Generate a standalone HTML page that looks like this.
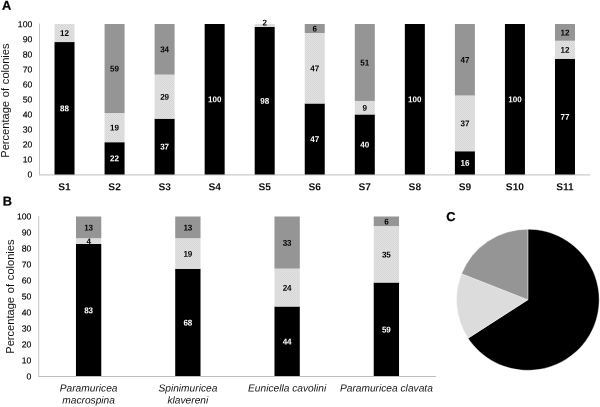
<!DOCTYPE html>
<html lang="en">
<head>
<meta charset="utf-8">
<title>Percentage of colonies</title>
<style>
html,body{margin:0;padding:0;background:#fff;}
body{width:600px;height:407px;overflow:hidden;}
svg{display:block;}
text{font-family:'Liberation Sans', Arial, sans-serif;}
.lb{font-size:8.4px;font-weight:bold;text-anchor:middle;}
.tk{font-size:8.7px;text-anchor:end;fill:#000;stroke:#000;stroke-width:0.15px;}
.cat{font-size:10.2px;font-weight:bold;text-anchor:middle;fill:#111;}
.ttl{font-size:11.1px;word-spacing:0.7px;text-anchor:middle;fill:#111;}
.pl{font-size:12.8px;font-weight:bold;fill:#000;stroke:#000;stroke-width:0.25px;}
.sp{font-size:10.2px;font-style:italic;text-anchor:middle;fill:#111;}
</style>
</head>
<body>
<svg width="600" height="407" viewBox="0 0 600 407">
<defs>
<pattern id="dots" width="2" height="2" patternUnits="userSpaceOnUse">
<rect width="2" height="2" fill="#e0e0e0"/>
<rect width="1" height="1" fill="#d8d8d8"/>
<rect x="1" y="1" width="1" height="1" fill="#d8d8d8"/>
</pattern>
</defs>
<rect width="600" height="407" fill="#fff"/>
<g>
<line x1="39.5" y1="23.5" x2="39.5" y2="174.9" stroke="#c4c4c4" stroke-width="1"/>
<text transform="translate(32.30 177.55) rotate(0.03)" class="tk">0</text>
<text transform="translate(32.30 162.53) rotate(0.03)" class="tk">10</text>
<text transform="translate(32.30 147.51) rotate(0.03)" class="tk">20</text>
<text transform="translate(32.30 132.49) rotate(0.03)" class="tk">30</text>
<text transform="translate(32.30 117.47) rotate(0.03)" class="tk">40</text>
<text transform="translate(32.30 102.45) rotate(0.03)" class="tk">50</text>
<text transform="translate(32.30 87.43) rotate(0.03)" class="tk">60</text>
<text transform="translate(32.30 72.41) rotate(0.03)" class="tk">70</text>
<text transform="translate(32.30 57.39) rotate(0.03)" class="tk">80</text>
<text transform="translate(32.30 42.37) rotate(0.03)" class="tk">90</text>
<text transform="translate(32.30 27.35) rotate(0.03)" class="tk">100</text>
<line x1="39.0" y1="174.9" x2="590" y2="174.9" stroke="#bdbdbd" stroke-width="1"/>
<rect x="54.52" y="42.06" width="20.00" height="132.44" fill="#000"/>
<rect x="54.52" y="24.00" width="20.00" height="18.06" fill="url(#dots)"/>
<text transform="translate(64.52 111.28) rotate(0.03) scale(0.96 1)" class="lb" fill="#fff">88</text>
<text transform="translate(64.52 36.03) rotate(0.03) scale(0.96 1)" class="lb" fill="#000">12</text>
<rect x="104.57" y="142.20" width="20.00" height="32.30" fill="#000"/>
<rect x="104.57" y="113.01" width="20.00" height="29.20" fill="url(#dots)"/>
<rect x="104.57" y="24.00" width="20.00" height="89.01" fill="#959595"/>
<text transform="translate(114.57 161.35) rotate(0.03) scale(0.96 1)" class="lb" fill="#fff">22</text>
<text transform="translate(114.57 130.60) rotate(0.03) scale(0.96 1)" class="lb" fill="#000">19</text>
<text transform="translate(114.57 71.50) rotate(0.03) scale(0.96 1)" class="lb" fill="#000">59</text>
<rect x="154.61" y="118.69" width="20.00" height="55.81" fill="#000"/>
<rect x="154.61" y="74.60" width="20.00" height="44.10" fill="url(#dots)"/>
<rect x="154.61" y="24.00" width="20.00" height="50.60" fill="#959595"/>
<text transform="translate(164.61 149.60) rotate(0.03) scale(0.96 1)" class="lb" fill="#fff">37</text>
<text transform="translate(164.61 99.65) rotate(0.03) scale(0.96 1)" class="lb" fill="#000">29</text>
<text transform="translate(164.61 52.30) rotate(0.03) scale(0.96 1)" class="lb" fill="#000">34</text>
<rect x="204.66" y="24.00" width="20.00" height="150.50" fill="#000"/>
<text transform="translate(214.66 102.25) rotate(0.03) scale(0.96 1)" class="lb" fill="#fff">100</text>
<rect x="254.70" y="27.01" width="20.00" height="147.49" fill="#000"/>
<rect x="254.70" y="24.00" width="20.00" height="3.01" fill="url(#dots)"/>
<text transform="translate(264.70 103.76) rotate(0.03) scale(0.96 1)" class="lb" fill="#fff">98</text>
<text transform="translate(264.70 25.51) rotate(0.03) scale(0.96 1)" class="lb" fill="#000">2</text>
<rect x="304.75" y="103.49" width="20.00" height="71.01" fill="#000"/>
<rect x="304.75" y="33.00" width="20.00" height="70.49" fill="url(#dots)"/>
<rect x="304.75" y="24.00" width="20.00" height="9.00" fill="#959595"/>
<text transform="translate(314.75 142.00) rotate(0.03) scale(0.96 1)" class="lb" fill="#fff">47</text>
<text transform="translate(314.75 71.25) rotate(0.03) scale(0.96 1)" class="lb" fill="#000">47</text>
<text transform="translate(314.75 31.50) rotate(0.03) scale(0.96 1)" class="lb" fill="#000">6</text>
<rect x="354.80" y="114.45" width="20.00" height="60.05" fill="#000"/>
<rect x="354.80" y="100.95" width="20.00" height="13.50" fill="url(#dots)"/>
<rect x="354.80" y="24.00" width="20.00" height="76.95" fill="#959595"/>
<text transform="translate(364.80 147.48) rotate(0.03) scale(0.96 1)" class="lb" fill="#fff">40</text>
<text transform="translate(364.80 110.70) rotate(0.03) scale(0.96 1)" class="lb" fill="#000">9</text>
<text transform="translate(364.80 65.48) rotate(0.03) scale(0.96 1)" class="lb" fill="#000">51</text>
<rect x="404.84" y="24.00" width="20.00" height="150.50" fill="#000"/>
<text transform="translate(414.84 102.25) rotate(0.03) scale(0.96 1)" class="lb" fill="#fff">100</text>
<rect x="454.89" y="151.25" width="20.00" height="23.25" fill="#000"/>
<rect x="454.89" y="95.49" width="20.00" height="55.75" fill="url(#dots)"/>
<rect x="454.89" y="24.00" width="20.00" height="71.49" fill="#959595"/>
<text transform="translate(464.89 165.87) rotate(0.03) scale(0.96 1)" class="lb" fill="#fff">16</text>
<text transform="translate(464.89 126.37) rotate(0.03) scale(0.96 1)" class="lb" fill="#000">37</text>
<text transform="translate(464.89 62.75) rotate(0.03) scale(0.96 1)" class="lb" fill="#000">47</text>
<rect x="504.93" y="24.00" width="20.00" height="150.50" fill="#000"/>
<text transform="translate(514.93 102.25) rotate(0.03) scale(0.96 1)" class="lb" fill="#fff">100</text>
<rect x="554.98" y="58.75" width="20.00" height="115.75" fill="#000"/>
<rect x="554.98" y="40.75" width="20.00" height="18.00" fill="url(#dots)"/>
<rect x="554.98" y="24.00" width="20.00" height="16.75" fill="#959595"/>
<text transform="translate(564.98 119.63) rotate(0.03) scale(0.96 1)" class="lb" fill="#fff">77</text>
<text transform="translate(564.98 52.75) rotate(0.03) scale(0.96 1)" class="lb" fill="#000">12</text>
<text transform="translate(564.98 35.38) rotate(0.03) scale(0.96 1)" class="lb" fill="#000">12</text>
<text transform="translate(64.52 190.30) rotate(0.03)" class="cat">S1</text>
<text transform="translate(114.57 190.30) rotate(0.03)" class="cat">S2</text>
<text transform="translate(164.61 190.30) rotate(0.03)" class="cat">S3</text>
<text transform="translate(214.66 190.30) rotate(0.03)" class="cat">S4</text>
<text transform="translate(264.70 190.30) rotate(0.03)" class="cat">S5</text>
<text transform="translate(314.75 190.30) rotate(0.03)" class="cat">S6</text>
<text transform="translate(364.80 190.30) rotate(0.03)" class="cat">S7</text>
<text transform="translate(414.84 190.30) rotate(0.03)" class="cat">S8</text>
<text transform="translate(464.89 190.30) rotate(0.03)" class="cat">S9</text>
<text transform="translate(514.93 190.30) rotate(0.03)" class="cat">S10</text>
<text transform="translate(564.98 190.30) rotate(0.03)" class="cat">S11</text>
<text transform="translate(8.9,100.6) rotate(-90)" class="ttl">Percentage of colonies</text>
<text transform="translate(2.10 9.70) rotate(0.03)" class="pl">A</text>
</g>
<g>
<line x1="38.7" y1="216.0" x2="38.7" y2="376.9" stroke="#c4c4c4" stroke-width="1"/>
<text transform="translate(31.40 379.55) rotate(0.03)" class="tk">0</text>
<text transform="translate(31.40 363.55) rotate(0.03)" class="tk">10</text>
<text transform="translate(31.40 347.55) rotate(0.03)" class="tk">20</text>
<text transform="translate(31.40 331.55) rotate(0.03)" class="tk">30</text>
<text transform="translate(31.40 315.55) rotate(0.03)" class="tk">40</text>
<text transform="translate(31.40 299.55) rotate(0.03)" class="tk">50</text>
<text transform="translate(31.40 283.55) rotate(0.03)" class="tk">60</text>
<text transform="translate(31.40 267.55) rotate(0.03)" class="tk">70</text>
<text transform="translate(31.40 251.55) rotate(0.03)" class="tk">80</text>
<text transform="translate(31.40 235.55) rotate(0.03)" class="tk">90</text>
<text transform="translate(31.40 219.55) rotate(0.03)" class="tk">100</text>
<line x1="38.5" y1="376.5" x2="436" y2="376.5" stroke="#bdbdbd" stroke-width="1"/>
<rect x="75.97" y="243.93" width="25.30" height="132.07" fill="#000"/>
<rect x="75.97" y="238.19" width="25.30" height="5.74" fill="url(#dots)"/>
<rect x="75.97" y="216.50" width="25.30" height="21.69" fill="#959595"/>
<text transform="translate(88.62 313.17) rotate(0.03) scale(0.96 1)" class="lb" fill="#fff">83</text>
<text transform="translate(88.62 244.26) rotate(0.03) scale(0.96 1)" class="lb" fill="#000">4</text>
<text transform="translate(88.62 230.55) rotate(0.03) scale(0.96 1)" class="lb" fill="#000">13</text>
<rect x="175.22" y="268.82" width="25.30" height="107.18" fill="#000"/>
<rect x="175.22" y="238.19" width="25.30" height="30.62" fill="url(#dots)"/>
<rect x="175.22" y="216.50" width="25.30" height="21.69" fill="#959595"/>
<text transform="translate(187.88 325.61) rotate(0.03) scale(0.96 1)" class="lb" fill="#fff">68</text>
<text transform="translate(187.88 256.70) rotate(0.03) scale(0.96 1)" class="lb" fill="#000">19</text>
<text transform="translate(187.88 230.55) rotate(0.03) scale(0.96 1)" class="lb" fill="#000">13</text>
<rect x="274.48" y="306.51" width="25.30" height="69.49" fill="#000"/>
<rect x="274.48" y="268.61" width="25.30" height="37.90" fill="url(#dots)"/>
<rect x="274.48" y="216.50" width="25.30" height="52.11" fill="#959595"/>
<text transform="translate(287.12 344.46) rotate(0.03) scale(0.96 1)" class="lb" fill="#fff">44</text>
<text transform="translate(287.12 290.76) rotate(0.03) scale(0.96 1)" class="lb" fill="#000">24</text>
<text transform="translate(287.12 245.76) rotate(0.03) scale(0.96 1)" class="lb" fill="#000">33</text>
<rect x="373.73" y="282.53" width="25.30" height="93.47" fill="#000"/>
<rect x="373.73" y="226.07" width="25.30" height="56.46" fill="url(#dots)"/>
<rect x="373.73" y="216.50" width="25.30" height="9.57" fill="#959595"/>
<text transform="translate(386.38 332.47) rotate(0.03) scale(0.96 1)" class="lb" fill="#fff">59</text>
<text transform="translate(386.38 257.50) rotate(0.03) scale(0.96 1)" class="lb" fill="#000">35</text>
<text transform="translate(386.38 224.49) rotate(0.03) scale(0.96 1)" class="lb" fill="#000">6</text>
<text transform="translate(88.62 391.50) rotate(0.03)" class="sp">Paramuricea</text>
<text transform="translate(88.62 403.50) rotate(0.03)" class="sp">macrospina</text>
<text transform="translate(187.88 391.50) rotate(0.03)" class="sp">Spinimuricea</text>
<text transform="translate(187.88 403.50) rotate(0.03)" class="sp">klavereni</text>
<text transform="translate(287.12 391.50) rotate(0.03)" class="sp">Eunicella cavolini</text>
<text transform="translate(386.38 391.50) rotate(0.03)" class="sp">Paramuricea clavata</text>
<text transform="translate(14.2,296.6) rotate(-90)" class="ttl">Percentage of colonies</text>
<text transform="translate(2.80 205.40) rotate(0.03)" class="pl">B</text>
</g>
<g transform="translate(527.85,299.75) scale(1,0.9895)" stroke="#fff" stroke-width="0.4" stroke-linejoin="round">
<path d="M0,0 L0.00,-71.30 A71.3,71.3 0 1 1 -59.80,38.83 Z" fill="#000"/>
<path d="M0,0 L-59.80,38.83 A71.3,71.3 0 0 1 -66.26,-26.33 Z" fill="url(#dots)"/>
<path d="M0,0 L-66.26,-26.33 A71.3,71.3 0 0 1 -0.00,-71.30 Z" fill="#959595"/>
</g>
<text transform="translate(446.20 220.90) rotate(0.03)" class="pl">C</text>
</svg>
</body>
</html>
